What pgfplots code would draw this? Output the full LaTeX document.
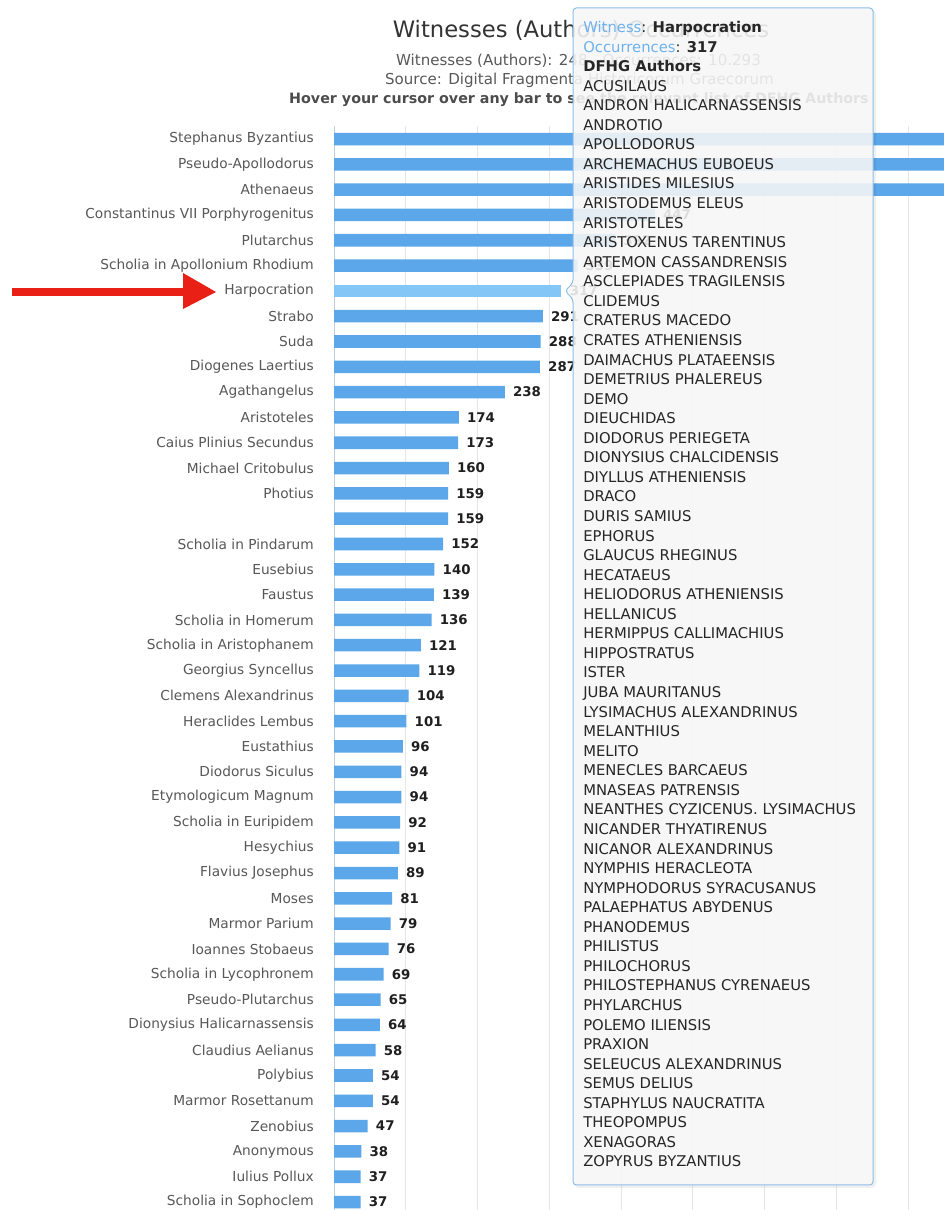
\documentclass[border=0pt]{standalone}
\usepackage{pgfplots}
\pgfplotsset{compat=1.18}
\usepackage{fontspec}
\setmainfont{DejaVu Sans}
\definecolor{barblue}{RGB}{92,166,234}
\definecolor{hoverblue}{RGB}{132,199,247}
\definecolor{tipblue}{RGB}{110,178,238}
\definecolor{tipborder}{RGB}{140,190,235}
\definecolor{labgrey}{RGB}{88,88,88}
\definecolor{gridgrey}{RGB}{230,230,230}
\definecolor{axisline}{RGB}{192,208,224}
\definecolor{arrowred}{RGB}{232,32,22}
\definecolor{tipfill}{RGB}{248,248,248}
\newcommand{\tipfont}{\fontsize{11.1pt}{13pt}\selectfont}
\begin{document}
\begin{tikzpicture}
\begin{scope}[x=0.75pt,y=0.75pt]
\fill[white] (0,0) rectangle (944,1210);
% titles
\node[font=\fontsize{17pt}{20pt}\selectfont, text=black!80, inner sep=0pt] at (581,1210-30) {Witnesses (Authors) Occurrences};
\node[font=\fontsize{11.3pt}{13pt}\selectfont, text=black!65, inner sep=0pt] at (578.5,1210-61) {Witnesses (Authors): 248 - Occurrences: 10.293};
\node[font=\fontsize{11.3pt}{13pt}\selectfont, text=black!65, inner sep=0pt] at (579.5,1210-80) {Source: Digital Fragmenta Historicorum Graecorum};
\node[font=\bfseries\fontsize{10.7pt}{13pt}\selectfont, text=black!70, inner sep=0pt] at (579,1210-100) {Hover your cursor over any bar to see the relevant list of DFHG Authors};
\end{scope}
\begin{axis}[
  at={(250.5pt,-3.525pt)}, anchor=south west,
  scale only axis, width=457.5pt, height=816.25pt,
  xbar, bar width=9.4pt, bar shift=0pt,
  xmin=0, xmax=850, ymin=-0.5, ymax=42.5, y dir=reverse,
  axis x line*=bottom, axis y line*=left,
  x axis line style={draw=none},
  y axis line style={draw=axisline, line width=0.75pt},
  xtick={0,100,...,800}, xticklabels={},
  xmajorgrids, grid style={draw=gridgrey, line width=0.75pt},
  ytick={0,...,42},
  yticklabels={Stephanus Byzantius, Pseudo-Apollodorus, Athenaeus, Constantinus VII Porphyrogenitus, Plutarchus, Scholia in Apollonium Rhodium, Harpocration, Strabo, Suda, Diogenes Laertius, Agathangelus, Aristoteles, Caius Plinius Secundus, Michael Critobulus, Photius, {}, Scholia in Pindarum, Eusebius, Faustus, Scholia in Homerum, Scholia in Aristophanem, Georgius Syncellus, Clemens Alexandrinus, Heraclides Lembus, Eustathius, Diodorus Siculus, Etymologicum Magnum, Scholia in Euripidem, Hesychius, Flavius Josephus, Moses, Marmor Parium, Ioannes Stobaeus, Scholia in Lycophronem, Pseudo-Plutarchus, Dionysius Halicarnassensis, Claudius Aelianus, Polybius, Marmor Rosettanum, Zenobius, Anonymous, Iulius Pollux, Scholia in Sophoclem},
  major tick length=0pt,
  yticklabel style={font=\fontsize{10.3pt}{12pt}\selectfont, text=labgrey, inner sep=0pt, xshift=-15pt},
  point meta=x,
  nodes near coords,
  every node near coord/.append style={font=\bfseries\fontsize{10pt}{12pt}\selectfont, text=black!88, inner sep=0pt, xshift=6pt, anchor=west},
  /pgf/number format/assume math mode=true,
]
\addplot[fill=barblue, draw=none, bar shift=0pt] table[x=v, y=i] {
i v
0 1120
1 960
2 905
3 447
4 392
5 339
7 291
8 288
9 287
10 238
11 174
12 173
13 160
14 159
15 159
16 152
17 140
18 139
19 136
20 121
21 119
22 104
23 101
24 96
25 94
26 94
27 92
28 91
29 89
30 81
31 79
32 76
33 69
34 65
35 64
36 58
37 54
38 54
39 47
40 38
41 37
42 37
};
\addplot[fill=hoverblue, draw=none, bar shift=0pt] table[x=v, y=i] {
i v
6 317
};
\end{axis}
\begin{scope}[x=0.75pt,y=0.75pt]
% red arrow
\fill[arrowred] (12,1210-288) rectangle (185,1210-296);
\fill[arrowred] (183,1210-273) -- (216,1210-292) -- (183,1210-309) -- cycle;
% tooltip
\fill[black, opacity=0.06, rounded corners=3pt] (575,1210-10) rectangle (876,1210-1188);
\filldraw[draw=tipborder, line width=0.75pt, fill=tipfill, fill opacity=0.88, rounded corners=2.5pt]
  (573,1210-8) -- (873,1210-8) -- (873,1210-1185) -- (573,1210-1185) -- (573,1210-299) -- (565,1210-291) -- (573,1210-283) -- cycle;
\node[anchor=base west, inner sep=0pt, font=\tipfont, text=black!85] at (583,1210-32.5) {\textcolor{tipblue}{Witness}: \textbf{Harpocration}};
\node[anchor=base west, inner sep=0pt, font=\tipfont, text=black!85] at (583,1210-52.06) {\textcolor{tipblue}{Occurrences}: \textbf{317}};
\node[anchor=base west, inner sep=0pt, font=\tipfont, text=black!85] at (583,1210-71.62) {\textbf{DFHG Authors}};
\foreach \nm [count=\i from 3] in {ACUSILAUS, ANDRON HALICARNASSENSIS, ANDROTIO, APOLLODORUS, ARCHEMACHUS EUBOEUS, ARISTIDES MILESIUS, ARISTODEMUS ELEUS, ARISTOTELES, ARISTOXENUS TARENTINUS, ARTEMON CASSANDRENSIS, ASCLEPIADES TRAGILENSIS, CLIDEMUS, CRATERUS MACEDO, CRATES ATHENIENSIS, DAIMACHUS PLATAEENSIS, DEMETRIUS PHALEREUS, DEMO, DIEUCHIDAS, DIODORUS PERIEGETA, DIONYSIUS CHALCIDENSIS, DIYLLUS ATHENIENSIS, DRACO, DURIS SAMIUS, EPHORUS, GLAUCUS RHEGINUS, HECATAEUS, HELIODORUS ATHENIENSIS, HELLANICUS, HERMIPPUS CALLIMACHIUS, HIPPOSTRATUS, ISTER, JUBA MAURITANUS, LYSIMACHUS ALEXANDRINUS, MELANTHIUS, MELITO, MENECLES BARCAEUS, MNASEAS PATRENSIS, NEANTHES CYZICENUS. LYSIMACHUS, NICANDER THYATIRENUS, NICANOR ALEXANDRINUS, NYMPHIS HERACLEOTA, NYMPHODORUS SYRACUSANUS, PALAEPHATUS ABYDENUS, PHANODEMUS, PHILISTUS, PHILOCHORUS, PHILOSTEPHANUS CYRENAEUS, PHYLARCHUS, POLEMO ILIENSIS, PRAXION, SELEUCUS ALEXANDRINUS, SEMUS DELIUS, STAPHYLUS NAUCRATITA, THEOPOMPUS, XENAGORAS, ZOPYRUS BYZANTIUS}
  \node[anchor=base west, inner sep=0pt, font=\tipfont, text=black!85] at (583,1210-32.5-19.56*\i) {\nm};
\end{scope}
\pgfresetboundingbox
\useasboundingbox (0pt,0pt) rectangle (708pt,907.5pt);
\end{tikzpicture}
\end{document}
